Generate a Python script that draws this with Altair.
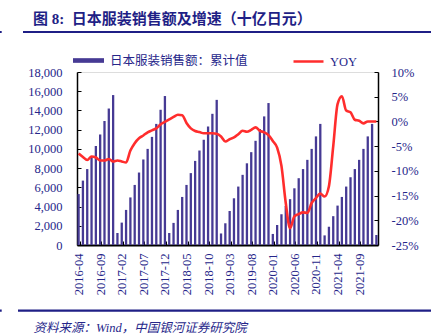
import altair as alt
import pandas as pd

# ---- data ----
months = [str(p) for p in pd.period_range("2016-04", "2022-01", freq="M")]
label_months = months[::5][:14]

sales_2016 = [5300, 6700, 7900, 9200, 10300, 11500, 12900, 14200, 15600]
sales_2017 = [1250, 2330, 3650, 4950, 6250, 7540, 8900, 10000, 11250, 12600, 14070, 15500]
sales_2018 = [1250, 2300, 3650, 5000, 6250, 7480, 8750, 9830, 10950, 12330, 13650, 15100]
sales_2019 = [1200, 2260, 3540, 4860, 6080, 7300, 8500, 9660, 10840, 12060, 13380, 14770]
sales_2020 = [1150, 2080, 3200, 4060, 4770, 5900, 6950, 7900, 8860, 10000, 11300, 12600]
sales_2021 = [1000, 1900, 3000, 4100, 5000, 6080, 7050, 7900, 8860, 10000, 11300, 12600]
sales_2022 = [1040]

yoy_2016 = [-6.5, -7.2, -7.8, -7.1, -7.3, -7.9, -7.9, -7.6, -8.1]
yoy_2017 = [-7.9, -8.1, -8.3, -5.9, -4.4, -3.4, -2.85, -2.2, -1.8, -1.4, -0.6, -0.1]
yoy_2018 = [0.4, 0.9, 1.35, 1.25, -0.3, -1.4, -1.95, -2.15, -2.4, -2.4, -2.4, -2.5]
yoy_2019 = [-3.05, -4.07, -3.6, -3.25, -2.58, -1.9, -2.1, -1.7, -1.2, -1.9, -2.2, -2.78]
yoy_2020 = [-3.95, -5.3, -9.0, -16.5, -21.6, -19.2, -18.75, -18.4, -18.5, -16.5, -15.5, -14.6]
yoy_2021 = [-15.2, -13.1, -5.0, 3.5, 5.1, 2.2, 1.85, 0.34, 0.13, -0.4, 0.0, 0.0]
yoy_2022 = [0.0]

left_ticks = list(range(0, 18001, 2000))
right_ticks = list(range(-25, 11, 5))

series_bar = "日本服装销售额：累计值"
series_line = "YOY"
title_text = "图 8:\u00a0\u00a0日本服装销售额及增速（十亿日元）"
source_text = "资料来源：Wind，中国银河证券研究院"

sales = sales_2016 + sales_2017 + sales_2018 + sales_2019 + sales_2020 + sales_2021 + sales_2022
yoy = yoy_2016 + yoy_2017 + yoy_2018 + yoy_2019 + yoy_2020 + yoy_2021 + yoy_2022

df = pd.DataFrame({"month": months, "sales": sales, "yoy": yoy})
df["s1"] = series_bar
df["s2"] = series_line

# ---- styles ----
FONT = "Liberation Serif, Noto Sans CJK SC"
NAVY = "#26268a"
BAR = "#463a94"
RED = "#ff2d2d"

xscale = alt.Scale(type="band", paddingInner=0.5, paddingOuter=0.12)

xaxis = alt.Axis(
    values=label_months, tickBand="extent", tickSize={"expr": "-4"},
    tickColor="black", tickWidth=1, domainColor="black", domainWidth=2.2,
    labelAngle=270, labelPadding=12, labelFont=FONT, labelFontSize=12.5,
    labelColor=NAVY, grid=False,
    title=source_text, titleX=-44, titleY=86, titleAlign="left", titleAngle=0,
    titleBaseline="alphabetic", titleFont=FONT, titleFontSize=12.5,
    titleFontStyle="italic", titleFontWeight="normal", titleColor=NAVY,
)

bars = alt.Chart(df).mark_bar(size=2.3).encode(
    x=alt.X("month:O", scale=xscale, axis=xaxis, sort=months),
    y=alt.Y("sales:Q", scale=alt.Scale(domain=[0, 18000], nice=False),
            axis=alt.Axis(orient="left", values=left_ticks, tickSize={"expr": "-4"},
                          tickColor="black", domainColor="black", domainWidth=1.5,
                          labelPadding=19, labelFont=FONT, labelFontSize=12.5,
                          labelColor=NAVY, grid=False, title=None)),
    color=alt.Color("s1:N", scale=alt.Scale(domain=[series_bar], range=[BAR]),
                    legend=alt.Legend(orient="none", legendX=-4, legendY=-27, title=None,
                                      symbolType="M-1,-0.15L1,-0.15L1,0.15L-1,0.15Z",
                                      symbolSize=961, symbolStrokeWidth=0, padding=0,
                                      labelOffset=6, labelFont=FONT, labelFontSize=12.5,
                                      labelColor=NAVY)),
)

line = alt.Chart(df).mark_line(strokeWidth=2.6, interpolate="monotone").encode(
    x=alt.X("month:O", scale=xscale, sort=months),
    y=alt.Y("yoy:Q", scale=alt.Scale(domain=[-25, 10], nice=False),
            axis=alt.Axis(orient="right", values=right_ticks, tickSize={"expr": "-4"},
                          tickColor="black", domainColor="black", domainWidth=1.5,
                          labelPadding=17, labelFont=FONT, labelFontSize=12.5,
                          labelColor=NAVY, grid=False, title=None,
                          labelExpr="datum.value + '%'")),
    stroke=alt.Stroke("s2:N", scale=alt.Scale(domain=[series_line], range=[RED]),
                      legend=alt.Legend(orient="none", legendX=215, legendY=-27, title=None,
                                        symbolType="stroke", symbolSize=900,
                                        symbolStrokeWidth=2.5, padding=0, labelOffset=5,
                                        labelFont=FONT, labelFontSize=12.5,
                                        labelColor=NAVY)),
)

one = pd.DataFrame({"a": [0]})
rule_top = alt.Chart(one).mark_rule(color="#1f1f86", strokeWidth=2.2).encode(
    x=alt.value(-54), x2=alt.value(354), y=alt.value(-40))
rule_bot = alt.Chart(one).mark_rule(color="#1f1f86", strokeWidth=2.2).encode(
    x=alt.value(-59), x2=alt.value(354), y=alt.value(238.7))
dot_top = alt.Chart(one).mark_rule(color="#1f1f86", strokeWidth=2.2).encode(
    x=alt.value(-77), x2=alt.value(-75.3), y=alt.value(-40))
dot_bot = alt.Chart(one).mark_rule(color="#1f1f86", strokeWidth=2.2).encode(
    x=alt.value(-77), x2=alt.value(-75.3), y=alt.value(238.7))

chart = alt.layer(bars, line, rule_top, rule_bot, dot_top, dot_bot).resolve_scale(
    y="independent"
).properties(
    width=301, height=173,
    padding={"left": 77, "top": 72, "right": 53, "bottom": 91},
    autosize=alt.AutoSizeParams(type="none"),
    title=alt.TitleParams(title_text, anchor="start", frame="group", dx=-44, dy=0,
                          font=FONT, fontSize=15, fontWeight="bold", color="#1f1f86"),
).configure_view(stroke=None).configure(background="white")

chart.save("out.html", embed_options={"renderer": "svg", "actions": False})
